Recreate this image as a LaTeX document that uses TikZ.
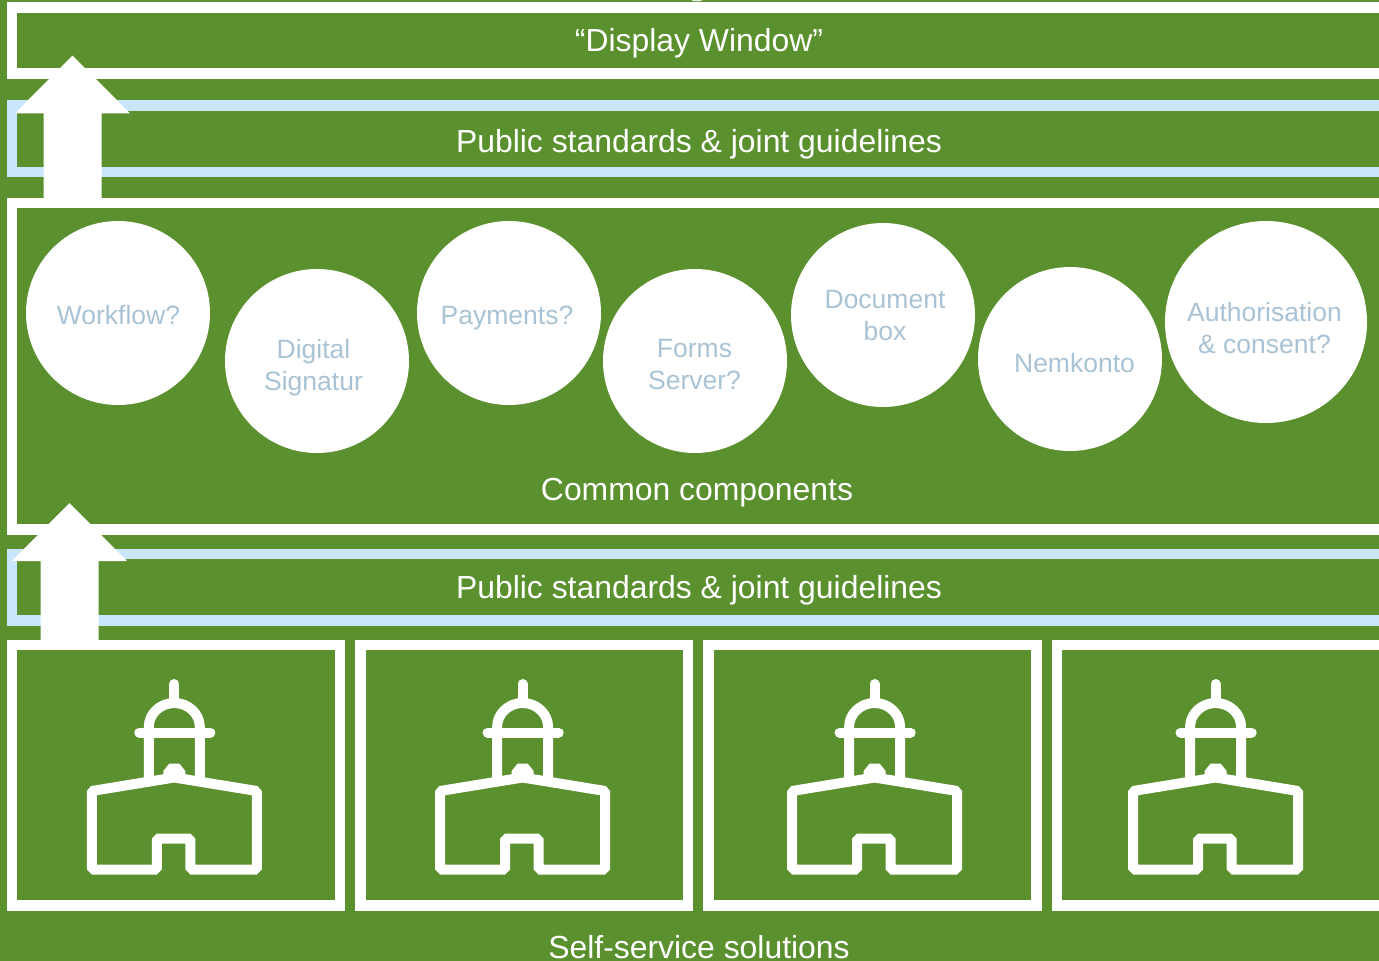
\documentclass[tikz,border=0pt]{standalone}
\usepackage{fontspec}
\setmainfont{Liberation Sans}
\definecolor{bggreen}{HTML}{5B902F}
\definecolor{paleblue}{HTML}{C9E6FC}
\definecolor{circtext}{HTML}{A9C3D4}
\tikzset{
  whitebar/.style={draw=white,line width=10.5pt,fill=none},
  bluebar/.style={draw=paleblue,line width=10.5pt,fill=none},
  bubble/.style={circle,fill=white,draw=none,inner sep=0pt},
  bubbletext/.style={text=circtext,font=\fontsize{26.5}{32}\selectfont,align=center,inner sep=0pt},
  headline/.style={text=white,font=\fontsize{31.9}{36}\selectfont,inner sep=0pt},
  blockarrow/.style={fill=white,draw=none},
  iconline/.style={draw=white,line width=10pt,line join=bevel,fill=none},
}
\newcommand{\townhall}[1]{%
  \begin{scope}[shift={(#1,0)}]
    \draw[iconline,line cap=round] (0,684) -- (0,702);
    \draw[iconline,line cap=round] (-35,732.5) -- (36,732.5);
    \draw[iconline,line join=round] (-25.5,778) -- (-25.5,732) -- (-25.5,727) arc[start angle=180,end angle=360,x radius=25.5,y radius=24] -- (25.5,778);
    \fill[white] (-11,777) -- (-11,771) -- (-5,763.5) -- (5,763.5) -- (11,771) -- (11,777) -- cycle;
    \draw[iconline] (0,777.5) -- (82.5,791) -- (82.5,869.5) -- (16,869.5) -- (16,838.5) -- (-17.5,838.5) -- (-17.5,869.5) -- (-82.5,869.5) -- (-82.5,791) -- cycle;
  \end{scope}}
\begin{document}
\begin{tikzpicture}[x=1pt,y=-1pt]
  \useasboundingbox (0,0) rectangle (1379,961);
  \clip (0,0) rectangle (1379,961);
  \fill[bggreen] (0,0) rectangle (1379,961);
  \fill[white!85!bggreen] (697,-4) ellipse[x radius=9,y radius=5.5];
  % bands
  \draw[whitebar] (1400,7.5) -- (11.8,7.5) -- (11.8,73.4) -- (1400,73.4);
  \draw[bluebar] (1400,105.5) -- (11.8,105.5) -- (11.8,172) -- (1400,172);
  \draw[whitebar] (1400,203.2) -- (11.8,203.2) -- (11.8,529.7) -- (1400,529.7);
  \draw[bluebar] (1400,554) -- (11.8,554) -- (11.8,620.5) -- (1400,620.5);
  % solution boxes
  \draw[whitebar] (11.8,645) rectangle (340,905.5);
  \draw[whitebar] (360.5,645) rectangle (688,905.5);
  \draw[whitebar] (708.5,645) rectangle (1036.5,905.5);
  \draw[whitebar] (1057,645) rectangle (1400,905.5);
  % arrows
  \fill[blockarrow] (72.5,55.5) -- (130,113.3) -- (101.5,113.3) -- (101.5,199) -- (43.5,199) -- (43.5,113.3) -- (15,113.3) -- cycle;
  \fill[blockarrow] (69.5,503) -- (127,561) -- (98.5,561) -- (98.5,641) -- (40.5,641) -- (40.5,561) -- (12,561) -- cycle;
  % circles
  \node[bubble,minimum size=184pt] (c1) at (118,313) {};
  \node[bubble,minimum size=184pt] (c2) at (317,361) {};
  \node[bubble,minimum size=184pt] (c3) at (509,313) {};
  \node[bubble,minimum size=184pt] (c4) at (695,361) {};
  \node[bubble,minimum size=184pt] (c5) at (883,315) {};
  \node[bubble,minimum size=184pt] (c6) at (1070,359) {};
  \node[bubble,minimum size=202pt] (c7) at (1266,322) {};
  \node[bubbletext] (t1) at (118.5,315) {Workflow?};
  \node[bubbletext] (t2) at (313.5,368) {Digital\\Signatur};
  \node[bubbletext] (t3) at (507,318) {Payments?};
  \node[bubbletext] (t4) at (694.5,365) {Forms\\Server?};
  \node[bubbletext] (t5) at (885,316) {Document\\box};
  \node[bubbletext] (t6) at (1074.5,363) {Nemkonto};
  \node[bubbletext] (t7) at (1264.5,328) {Authorisation\\\& consent?};
  % headings
  \node[headline] (h1) at (699,43) {“Display Window”};
  \node[headline] (h2) at (699,144.5) {Public standards \& joint guidelines};
  \node[headline] (h3) at (697,493) {Common components};
  \node[headline] (h4) at (699,590.5) {Public standards \& joint guidelines};
  \node[headline] (h5) at (699,947) {Self-service solutions};
  % icons
  \townhall{174.3}
  \townhall{522.6}
  \townhall{874.6}
  \townhall{1215.6}
\end{tikzpicture}
\end{document}
